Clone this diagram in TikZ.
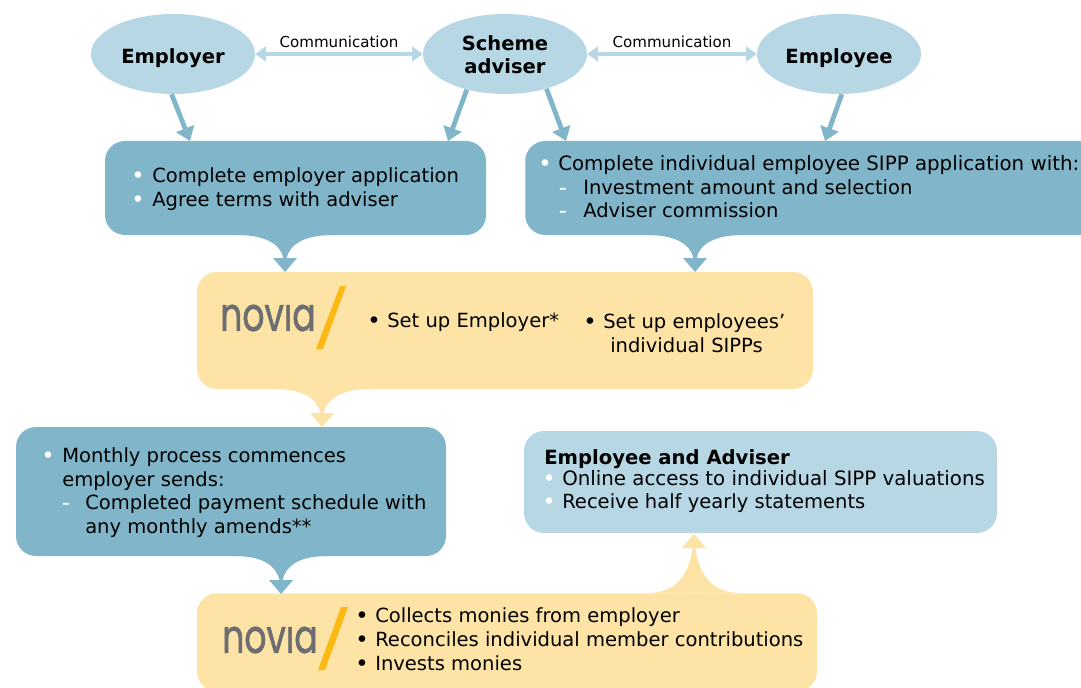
\documentclass[tikz,border=0pt]{standalone}
\usepackage{fontspec}
\setmainfont{DejaVu Sans}
\newfontfamily\logofont[FakeBold=1.6]{Poppins}
\usepackage{xcolor}
\usepackage{tikz}
\usetikzlibrary{arrows.meta}
\usetikzlibrary{positioning,calc,shapes.geometric}
\definecolor{paleblue}{HTML}{B7D7E5}
\definecolor{midblue}{HTML}{81B6CA}
\definecolor{paleyellow}{HTML}{FEE3A6}
\definecolor{logogrey}{HTML}{6D6E71}
\definecolor{logoslash}{HTML}{FDB913}
\tikzset{
    party/.style={
        ellipse,
        fill=paleblue,
        minimum width=123pt,
        minimum height=60pt,
        inner sep=0pt
    },
    partytext/.style={
        inner sep=0pt,
        align=center,
        font=\bfseries\fontsize{14.65}{17.25}\selectfont
    },
    panel/.style={
        rounded corners=15pt,
        inner sep=0pt
    },
    txt/.style={
        anchor=west,
        inner sep=0pt,
        text height=11pt,
        text depth=3pt,
        font=\fontsize{14.65}{17}\selectfont
    },
    widetxt/.style={
        txt,
        font=\fontsize{14.85}{17}\selectfont
    },
    dotmark/.style={
        txt,
        anchor=center,
        yshift=-1.2pt,
        font=\fontsize{17}{17}\selectfont
    },
    commlabel/.style={
        inner sep=0pt,
        font=\fontsize{11.3}{13}\selectfont
    },
    logotext/.style={
        inner sep=0pt,
        text=logogrey,
        xscale=0.74,
        font=\logofont\fontsize{35}{35}\selectfont
    },
    feed/.style={
        draw=midblue,
        line width=3.6pt,
        -{Triangle[length=10pt,width=14pt]}
    },
    talk/.style={
        draw=paleblue,
        line width=2.6pt,
        {Triangle[length=8pt,width=11pt]}-{Triangle[length=8pt,width=11pt]}
    }
}
% funnel from the edge of one panel into a point: colour, base, tip, flare
\newcommand{\funnel}[4]{
    \coordinate (neck) at ($(#3)!10.5pt!(#2)$);
    \fill[#1] ($(#2)+(-#4,0)$)
        .. controls ($(#2)+(-#4*0.4,0)$) and ($(neck)!0.6!(#2)+(-5,0)$) .. ($(neck)+(-1.5,0)$)
        -- ($(neck)+(-12,0)$) -- (#3) -- ($(neck)+(12,0)$) -- ($(neck)+(1.5,0)$)
        .. controls ($(neck)!0.6!(#2)+(5,0)$) and ($(#2)+(#4*0.4,0)$) .. ($(#2)+(#4,0)$) -- cycle;
}
\begin{document}
\begin{tikzpicture}[x=0.75pt,y=-0.75pt]
    \useasboundingbox (0,0) rectangle (1081,688);
    \clip (0,0) rectangle (1081,688);

    % Panels
    \node[panel, fill=midblue, minimum width=285.75pt, minimum height=70.5pt] (employerbox) at (295.5,188) {};
    \node[panel, fill=midblue, minimum width=450pt, minimum height=70.5pt, anchor=west] (employeebox) at (525,188) {};
    \node[panel, fill=paleyellow, minimum width=462pt, minimum height=87.75pt] (setupbox) at (505,330.5) {};
    \node[panel, fill=midblue, minimum width=322.5pt, minimum height=96.75pt] (monthlybox) at (231,491.5) {};
    \node[panel, fill=paleblue, minimum width=354.75pt, minimum height=76.5pt] (accessbox) at (760.5,482) {};
    \node[panel, fill=paleyellow, minimum width=465pt, minimum height=73.5pt, anchor=north] (collectbox) at (507,593) {};

    % Parties
    \node[party] (employer) at (173,54) {};
    \node[party] (adviser) at (505,54) {};
    \node[party] (employee) at (839,54) {};
    \node[partytext] (employertext) at (173,58) {Employer};
    \node[partytext] (advisertext) at (505,55) {Scheme\\adviser};
    \node[partytext] (employeetext) at (839,58) {Employee};

    % Arrows between parties
    \draw[talk] (employer.east) -- node[commlabel, above=3.5pt] (commleft) {Communication} (adviser.west);
    \draw[talk] (adviser.east) -- node[commlabel, above=3.5pt] (commright) {Communication} (employee.west);

    % Arrows into the application panels
    \coordinate (ina) at (190,141);
    \coordinate (inb) at (448,141);
    \coordinate (inc) at (566,141);
    \coordinate (ind) at (825,141);
    \draw[feed] (employer.268) -- (ina);
    \draw[feed] (adviser.223) -- (inb);
    \draw[feed] (adviser.320) -- (inc);
    \draw[feed] (employee.274) -- (ind);

    % Funnels between panels
    \coordinate (basea) at (285,235);
    \coordinate (tipa) at (285,272);
    \coordinate (baseb) at (695,235);
    \coordinate (tipb) at (695,272);
    \coordinate (basec) at (322,389);
    \coordinate (tipc) at (322,427);
    \coordinate (based) at (281,556);
    \coordinate (tipd) at (281,594);
    \coordinate (basee) at (694,593);
    \coordinate (tipe) at (694,534);
    \funnel{midblue}{basea}{tipa}{48}
    \funnel{midblue}{baseb}{tipb}{48}
    \funnel{paleyellow}{basec}{tipc}{48}
    \funnel{midblue}{based}{tipd}{46}
    \funnel{paleyellow}{basee}{tipe}{46}

    % Employer application
    \node[dotmark, text=white] (ea0) at (138,177) {•};
    \node[txt] (ea1) at (152,177) {Complete employer application};
    \node[dotmark, text=white] (eb0) at (138,201) {•};
    \node[txt] (eb1) at (152,201) {Agree terms with adviser};

    % Employee application
    \node[dotmark, text=white] (fa0) at (545,165) {•};
    \node[widetxt] (fa1) at (558,165) {Complete individual employee SIPP application with:};
    \node[dotmark, text=white] (fb0) at (563,189) {-};
    \node[txt] (fb1) at (583,189) {Investment amount and selection};
    \node[dotmark, text=white] (fc0) at (563,212) {-};
    \node[txt] (fc1) at (583,212) {Adviser commission};

    % Set up
    \node[logotext] (logoa) at (268,318) {novıa};
    \fill[logoslash] (340,286) -- (346,286) -- (323,349) -- (316,349) -- cycle;
    \node[dotmark] (sa0) at (374,322) {•};
    \node[txt] (sa1) at (387,322) {Set up Employer*};
    \node[dotmark] (sb0) at (590,323) {•};
    \node[txt] (sb1) at (603,323) {Set up employees’};
    \node[txt] (sb2) at (610,347) {individual SIPPs};

    % Monthly process
    \node[dotmark, text=white] (ma0) at (48,457) {•};
    \node[txt] (ma1) at (62,457) {Monthly process commences};
    \node[txt] (ma2) at (62,481) {employer sends:};
    \node[dotmark, text=white] (mb0) at (66,504) {-};
    \node[txt] (mb1) at (85,504) {Completed payment schedule with};
    \node[txt] (mb2) at (85,528) {any monthly amends**};

    % Access
    \node[txt, font=\bfseries\fontsize{14.7}{17}\selectfont] (ac0) at (544,459) {Employee and Adviser};
    \node[dotmark, text=white] (ac1) at (549,480) {•};
    \node[widetxt] (ac2) at (562,480) {Online access to individual SIPP valuations};
    \node[dotmark, text=white] (ac3) at (549,503) {•};
    \node[txt] (ac4) at (562,503) {Receive half yearly statements};

    % Collect
    \node[logotext] (logob) at (270,640) {novıa};
    \fill[logoslash] (341,607) -- (348,607) -- (325,670) -- (318,670) -- cycle;
    \node[dotmark] (ca0) at (362,617) {•};
    \node[txt] (ca1) at (375,617) {Collects monies from employer};
    \node[dotmark] (cb0) at (362,641) {•};
    \node[txt] (cb1) at (375,641) {Reconciles individual member contributions};
    \node[dotmark] (cc0) at (362,665) {•};
    \node[txt] (cc1) at (375,665) {Invests monies};
\end{tikzpicture}
\end{document}
